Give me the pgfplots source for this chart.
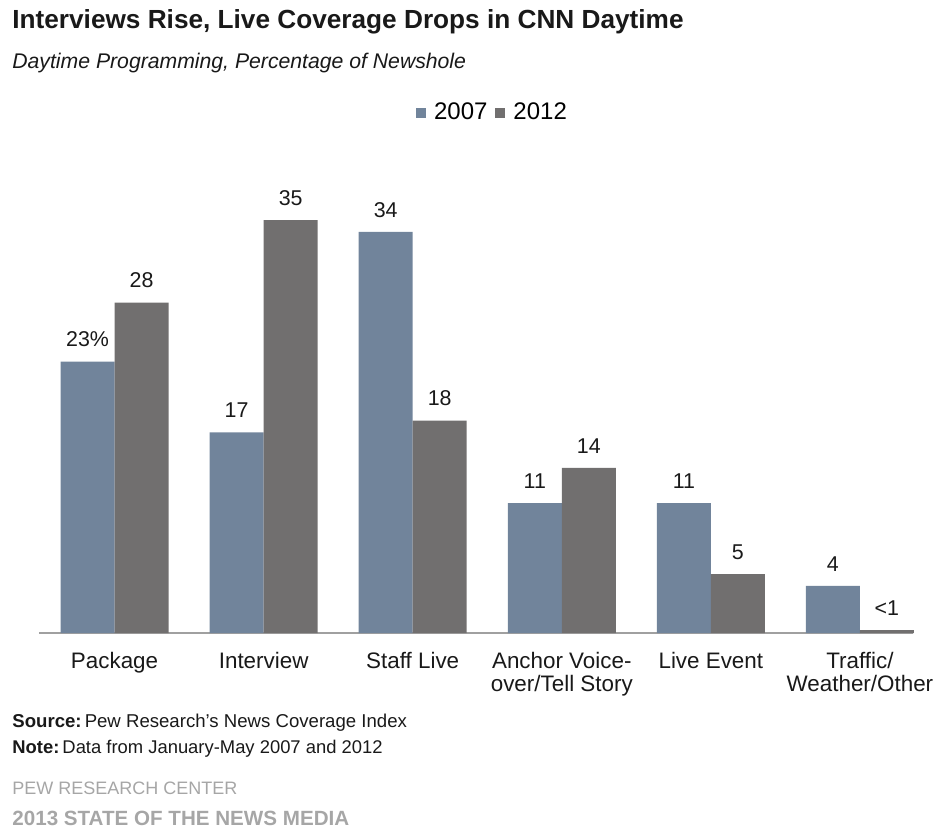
\documentclass[border=0pt]{standalone}
\usepackage{fontspec}
\setmainfont{Liberation Sans}
\usepackage{pgfplots}
\usepackage{pgfplotstable}
\pgfplotsset{compat=1.18}
\definecolor{c2007}{RGB}{113,132,155}
\definecolor{c2012}{RGB}{113,111,111}
\definecolor{axisgray}{RGB}{160,160,160}
\definecolor{txt}{RGB}{25,25,25}
\definecolor{foot}{RGB}{166,166,166}

\pgfplotstableread{
x y lab
0 23 {23\%}
1 17 17
2 34 34
3 11 11
4 11 11
5 4 4
}\seven
\pgfplotstableread{
x y lab
0 28 28
1 35 35
2 18 18
3 14 14
4 5 5
5 0.25 {<1}
}\twelve

\begin{document}
\begin{tikzpicture}
\path[use as bounding box] (0,0) rectangle (467.5pt,-413.5pt);
\begin{axis}[
  at={(19.5pt,-316.5pt)}, anchor=south west,
  scale only axis, width=437pt, height=236pt,
  xmin=-0.507, xmax=5.356, ymin=0, ymax=40,
  axis x line*=bottom, axis y line=none,
  x axis line style={axisgray, line width=1pt, -},
  ytick=\empty, xtick=data, major tick length=0pt,
  xticklabels={Package, Interview, Staff Live, {Anchor Voice-\\over/Tell Story}, Live Event, {Traffic/\\Weather/Other}},
  xticklabel style={font=\fontsize{11.2}{11.5}\selectfont, color=txt, align=center, yshift=-6pt},
  ybar=0pt, bar width=27pt,
  clip=false,
  nodes near coords, point meta=explicit symbolic,
  every node near coord/.append style={font=\fontsize{10.7}{12}\selectfont, color=txt, anchor=center, yshift=11pt},
  legend columns=2,
  legend style={at={(0.431,1.1017)}, anchor=west, draw=none, inner sep=0pt,
    font=\fontsize{12}{13}\selectfont, nodes={inner xsep=1pt}, column sep=3pt},
  legend image code/.code={\fill[#1] (0pt,-2.5pt) rectangle (5pt,2.5pt);},
]
\addplot[fill=c2007, draw=none] table[x=x, y=y, meta=lab] {\seven};
\addlegendentry{2007}
\addplot[fill=c2012, draw=none] table[x=x, y=y, meta=lab] {\twelve};
\addlegendentry{2012}
\end{axis}
\node[anchor=west, inner sep=0pt, color=txt, font=\fontsize{13.1}{15}\selectfont\bfseries] at (6pt,-11pt) {Interviews Rise, Live Coverage Drops in CNN Daytime};
\node[anchor=west, inner sep=0pt, color=txt, font=\fontsize{10.6}{12}\selectfont\itshape] at (6pt,-31.5pt) {Daytime Programming, Percentage of Newshole};
\node[anchor=west, inner sep=0pt, color=txt, font=\fontsize{9.3}{10}\selectfont] at (6pt,-361.5pt) {\textbf{Source:}\,Pew Research's News Coverage Index};
\node[anchor=west, inner sep=0pt, color=txt, font=\fontsize{9.2}{10}\selectfont] at (6pt,-374.5pt) {\textbf{Note:}\,Data from January-May 2007 and 2012};
\node[anchor=west, inner sep=0pt, color=foot, font=\fontsize{9}{10}\selectfont] at (6pt,-394pt) {PEW RESEARCH CENTER};
\node[anchor=west, inner sep=0pt, color=foot, font=\fontsize{10.3}{11}\selectfont\bfseries] at (6pt,-409pt) {2013 STATE OF THE NEWS MEDIA};
\end{tikzpicture}
\end{document}
